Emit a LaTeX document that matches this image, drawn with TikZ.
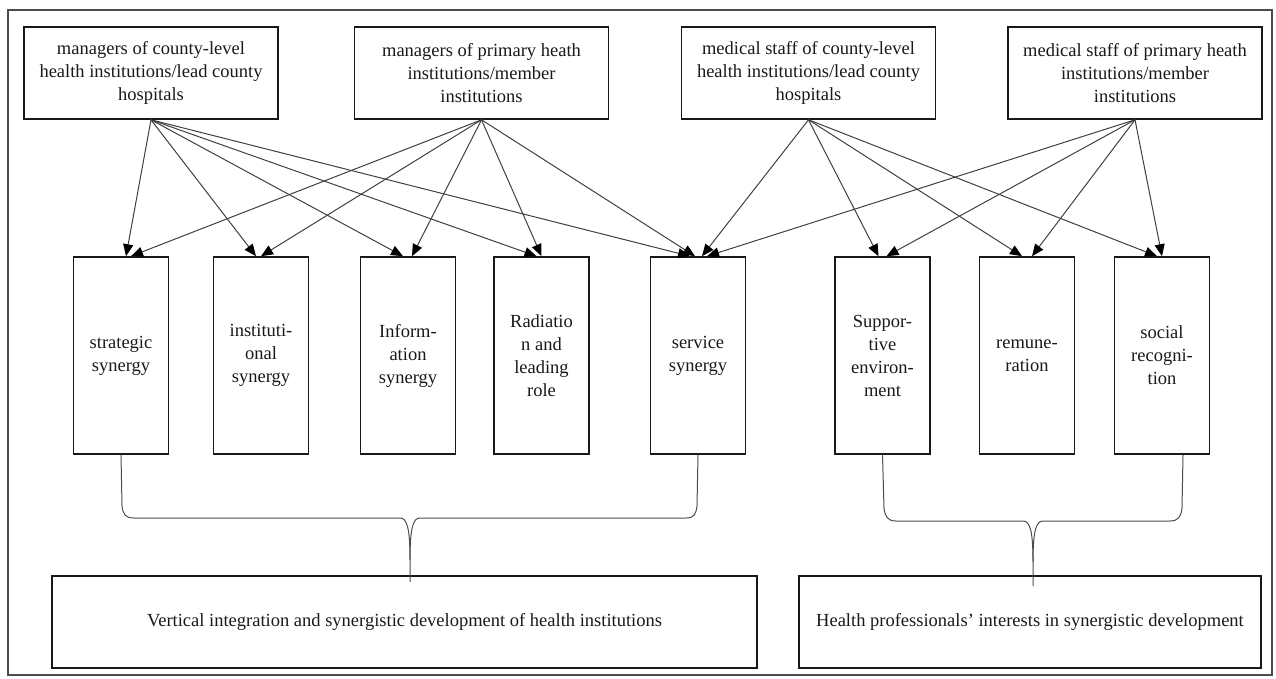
\documentclass[tikz,border=0pt]{standalone}
\usepackage{fontspec}
\setmainfont{Liberation Serif}
\usetikzlibrary{arrows.meta}
\begin{document}
\begin{tikzpicture}[x=1pt,y=-1pt,
  box/.style={draw=black!90, line width=1.6pt, align=center, inner sep=1pt, text=black!90,
    font=\fontsize{18.5}{23}\selectfont},
  topbox/.style={box, minimum width=254pt, minimum height=92pt},
  midbox/.style={box, minimum width=95pt, minimum height=197pt, font=\fontsize{18.5}{23}\selectfont},
  botbox/.style={box, minimum height=92pt},
  arr/.style={draw=black!75, line width=1pt, -{Triangle[length=12pt,width=10pt,color=black]}},
  brace/.style={draw=black!70, line width=1pt}]
\useasboundingbox (0,0) rectangle (1276,679);
\draw[draw=black!70, line width=1.5pt] (8,10) rectangle (1272,675);

% top boxes
\node[topbox] (b1) at (151,73) {managers of county-level\\health institutions/lead county\\hospitals};
\node[topbox, minimum height=92pt] (b2) at (481.5,73) {managers of primary heath\\institutions/member\\institutions};
\node[topbox] (b3) at (808.5,73) {medical staff of county-level\\health institutions/lead county\\hospitals};
\node[topbox] (b4) at (1135,73) {medical staff of primary heath\\institutions/member\\institutions};

% middle boxes
\node[midbox] (strat) at (121,355.5) {strategic\\synergy};
\node[midbox] (inst) at (261,355.5) {instituti-\\onal\\synergy};
\node[midbox] (info) at (408,355.5) {Inform-\\ation\\synergy};
\node[midbox] (rad) at (541.5,355.5) {Radiatio\\n and\\leading\\role};
\node[midbox] (serv) at (698,355.5) {service\\synergy};
\node[midbox] (supp) at (882.5,355.5) {Suppor-\\tive\\environ-\\ment};
\node[midbox] (remu) at (1027,355.5) {remune-\\ration};
\node[midbox] (soc) at (1162,355.5) {social\\recogni-\\tion};

% bottom boxes
\node[botbox, minimum width=705pt] (vbox) at (404.5,622) {Vertical integration and synergistic development of health institutions};
\node[botbox, minimum width=462pt] (hbox) at (1030,622) {Health professionals’ interests in synergistic development};

% arrows from b1
\draw[arr] (b1.south) -- ([xshift=5]strat.north);
\draw[arr] (b1.south) -- ([xshift=-5]inst.north);
\draw[arr] (b1.south) -- ([xshift=-5]info.north);
\draw[arr] (b1.south) -- ([xshift=-5]rad.north);
\draw[arr] (b1.south) -- ([xshift=-8]serv.north);
% arrows from b2
\draw[arr] (b2.south) -- ([xshift=10]strat.north);
\draw[arr] (b2.south) -- ([xshift=0]inst.north);
\draw[arr] (b2.south) -- ([xshift=4]info.north);
\draw[arr] (b2.south) -- ([xshift=0]rad.north);
\draw[arr] (b2.south) -- ([xshift=-3]serv.north);
% arrows from b3
\draw[arr] (b3.south) -- ([xshift=4]serv.north);
\draw[arr] (b3.south) -- ([xshift=-4]supp.north);
\draw[arr] (b3.south) -- ([xshift=-5]remu.north);
\draw[arr] (b3.south) -- ([xshift=-5]soc.north);
% arrows from b4
\draw[arr] (b4.south) -- ([xshift=9]serv.north);
\draw[arr] (b4.south) -- ([xshift=4]supp.north);
\draw[arr] (b4.south) -- ([xshift=5]remu.north);
\draw[arr] (b4.south) -- ([xshift=0]soc.north);

% braces
\coordinate (ltip) at (410,582);
\coordinate (rtip) at (1033,586);
\draw[brace] (strat.south) -- (122,506) .. controls (123,514) and (125,518) .. (134,518)
  -- (400,518) .. controls (407,518) and (410,528) .. (410,560) -- (ltip);
\draw[brace] (serv.south) -- (697,506) .. controls (696,514) and (694,518) .. (686,518)
  -- (420,518) .. controls (413,518) and (410,528) .. (410,560);
\draw[brace] (supp.south) -- (884,508) .. controls (885,517) and (888,521) .. (896,521)
  -- (1023,521) .. controls (1030,521) and (1033,531) .. (1033,562) -- (rtip);
\draw[brace] ([xshift=21]soc.south) -- (1182,508) .. controls (1181,517) and (1178,521) .. (1170,521)
  -- (1043,521) .. controls (1036,521) and (1033,531) .. (1033,562);
\end{tikzpicture}
\end{document}
